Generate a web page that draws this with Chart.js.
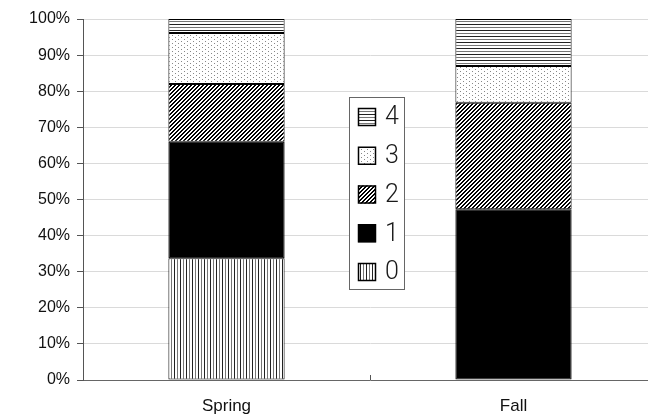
<!DOCTYPE html>
<html lang="en">
<head>
    <meta charset="UTF-8">
    <title>Spring vs Fall</title>
    <script src="https://cdn.jsdelivr.net/npm/chart.js"></script>
    <style>
        html, body {
            margin: 0;
            padding: 0;
            background: #fff;
            overflow: hidden;
            width: 648px;
            height: 416px;
        }
        canvas {
            display: block;
        }
    </style>
</head>
<body>
    <canvas id="stackChart" width="660" height="416"></canvas>

    <script>
        // data (percent of each season)
        const seasons = ['Spring', 'Fall'];
        const levels = ['0', '1', '2', '3', '4'];
        const level0 = [33.7, 0];
        const level1 = [32.3, 47.3];
        const level2 = [16.0, 29.5];
        const level3 = [14.1, 10.2];
        const level4 = [3.9, 13.0];
        const yTicks = [0, 10, 20, 30, 40, 50, 60, 70, 80, 90, 100];

        // little tiles for the hatch fills
        function makePattern(w, h, paint) {
            const c = document.createElement('canvas');
            c.width = w;
            c.height = h;
            const g = c.getContext('2d');
            g.fillStyle = '#fff';
            g.fillRect(0, 0, w, h);
            paint(g);
            return document.createElement('canvas').getContext('2d').createPattern(c, 'repeat');
        }

        const fills = [
            // vertical lines
            makePattern(6, 1, g => {
                g.fillStyle = '#222'; g.fillRect(0, 0, 1, 1);
                g.fillStyle = '#777'; g.fillRect(3, 0, 1, 1);
            }),
            '#000',
            // diagonal lines
            makePattern(4, 4, g => {
                g.fillStyle = '#000';
                for (let i = 0; i < 4; i++) {
                    g.fillRect(i, 3 - i, 1, 1);
                    g.fillRect(i, (4 - i) % 4, 1, 1);
                }
            }),
            // sparse dots
            makePattern(6, 4, g => {
                g.fillStyle = '#888';
                g.fillRect(1, 1, 1, 1);
                g.fillRect(4, 3, 1, 1);
            }),
            // horizontal lines
            makePattern(1, 6, g => {
                g.fillStyle = '#222'; g.fillRect(0, 0, 1, 1);
                g.fillStyle = '#777'; g.fillRect(0, 3, 1, 1);
            })
        ];

        const seriesValues = [level0, level1, level2, level3, level4];

        const datasets = levels.map((name, i) => ({
            label: name,
            data: seriesValues[i],
            backgroundColor: fills[i],
            borderColor: '#000',
            borderWidth: 1,
            borderSkipped: false,
            categoryPercentage: 1,
            barPercentage: 0.405
        }));

        // legend box sitting in the middle of the plot
        const boxLegend = {
            id: 'boxLegend',
            afterDraw(chart) {
                const ctx = chart.ctx;
                ctx.save();
                ctx.fillStyle = '#fff';
                ctx.fillRect(349.5, 97.5, 55, 192);
                ctx.strokeStyle = '#666';
                ctx.lineWidth = 1;
                ctx.strokeRect(349.5, 97.5, 55, 192);
                const items = chart.data.datasets.slice().reverse();
                items.forEach((ds, k) => {
                    const cy = 117 + k * 38.75;
                    ctx.fillStyle = ds.backgroundColor;
                    ctx.fillRect(358, cy - 9, 18, 18);
                    ctx.strokeStyle = '#000';
                    ctx.lineWidth = 1.5;
                    ctx.strokeRect(358.5, cy - 8.5, 17, 17);
                    ctx.fillStyle = '#1a1a1a';
                    ctx.font = '300 25px Roboto, "Liberation Sans", Arial, sans-serif';
                    ctx.textBaseline = 'middle';
                    ctx.fillText(ds.label, 385, cy + 1);
                });
                ctx.restore();
            }
        };

        // small tick between the two categories on the x axis
        const midTick = {
            id: 'midTick',
            afterDatasetsDraw(chart) {
                const x = chart.scales.x;
                const mid = Math.round((x.getPixelForValue(0) + x.getPixelForValue(1)) / 2) + 0.5;
                const ctx = chart.ctx;
                ctx.save();
                ctx.strokeStyle = '#555';
                ctx.beginPath();
                ctx.moveTo(mid, x.top);
                ctx.lineTo(mid, x.top - 5);
                ctx.stroke();
                ctx.restore();
            }
        };

        new Chart(document.getElementById('stackChart'), {
            type: 'bar',
            data: { labels: seasons, datasets: datasets },
            options: {
                responsive: false,
                animation: false,
                layout: { padding: { top: 19, right: 3, left: 0, bottom: 0 } },
                plugins: {
                    legend: { display: false },
                    tooltip: { enabled: false }
                },
                scales: {
                    x: {
                        stacked: true,
                        grid: { display: false },
                        border: { color: '#666' },
                        ticks: {
                            color: '#111',
                            padding: 8,
                            font: { family: '"Liberation Sans", Arial, sans-serif', size: 17 }
                        },
                        afterFit: s => { s.height = 36; }
                    },
                    y: {
                        stacked: true,
                        min: 0,
                        max: 100,
                        afterBuildTicks: s => { s.ticks = yTicks.map(v => ({ value: v })); },
                        grid: { color: '#dadada', tickColor: '#555', tickLength: 6 },
                        border: { color: '#555' },
                        ticks: {
                            color: '#111',
                            padding: 7,
                            font: { family: '"Liberation Sans", Arial, sans-serif', size: 16 },
                            callback: v => v + '%'
                        },
                        afterFit: s => { s.width = 83; }
                    }
                }
            },
            plugins: [midTick, boxLegend]
        });
    </script>
</body>
</html>
